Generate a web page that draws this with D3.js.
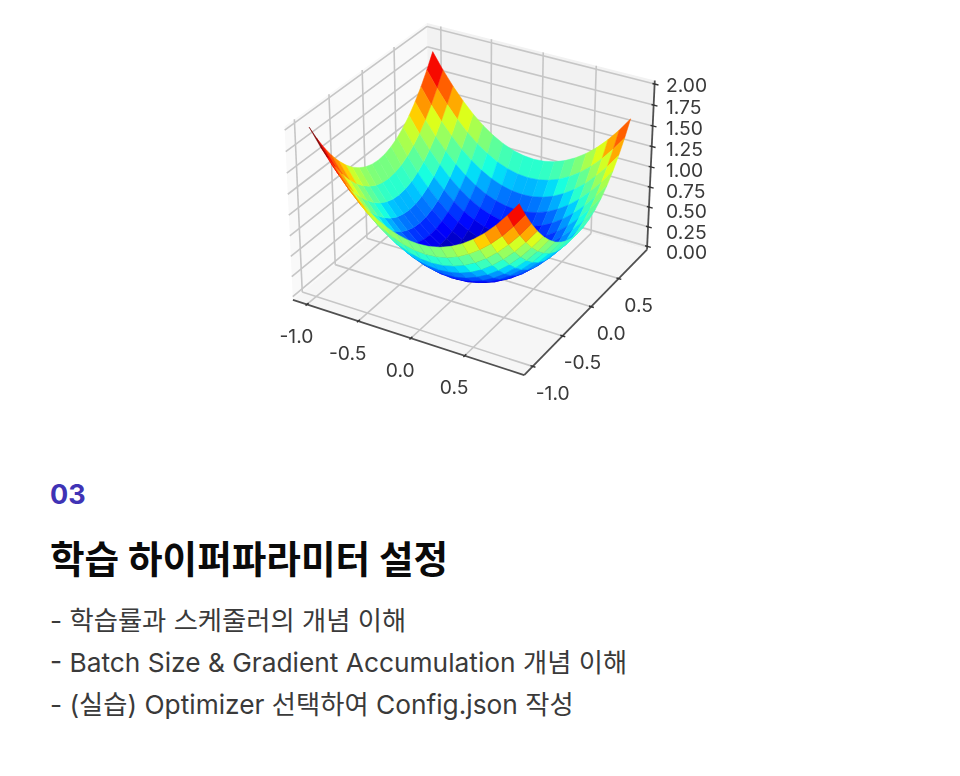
<!DOCTYPE html>
<html lang="ko">
<head>
<meta charset="utf-8">
<script src="https://cdn.jsdelivr.net/npm/d3@7"></script>
<style>
html,body{margin:0;padding:0;background:#fff;}
svg{display:block;}
text{font-family:"Inter","Noto Sans CJK KR",sans-serif;}
.plot{filter:blur(0.6px);}
</style>
</head>
<body>
<svg id="chart" width="960" height="776"></svg>
<script>
// ---------- data ----------
const xValues = [-1.0,-0.9,-0.8,-0.7,-0.6,-0.5,-0.4,-0.3,-0.2,-0.1,0.0,0.1,0.2,0.3,0.4,0.5,0.6,0.7,0.8,0.9];
const yValues = [-1.0,-0.9,-0.8,-0.7,-0.6,-0.5,-0.4,-0.3,-0.2,-0.1,0.0,0.1,0.2,0.3,0.4,0.5,0.6,0.7,0.8,0.9];
const zValues = [
 [2,1.81,1.64,1.49,1.36,1.25,1.16,1.09,1.04,1.01,1,1.01,1.04,1.09,1.16,1.25,1.36,1.49,1.64,1.81],
 [1.81,1.62,1.45,1.30,1.17,1.06,.97,.90,.85,.82,.81,.82,.85,.90,.97,1.06,1.17,1.30,1.45,1.62],
 [1.64,1.45,1.28,1.13,1.00,.89,.80,.73,.68,.65,.64,.65,.68,.73,.80,.89,1.00,1.13,1.28,1.45],
 [1.49,1.30,1.13,.98,.85,.74,.65,.58,.53,.50,.49,.50,.53,.58,.65,.74,.85,.98,1.13,1.30],
 [1.36,1.17,1.00,.85,.72,.61,.52,.45,.40,.37,.36,.37,.40,.45,.52,.61,.72,.85,1.00,1.17],
 [1.25,1.06,.89,.74,.61,.50,.41,.34,.29,.26,.25,.26,.29,.34,.41,.50,.61,.74,.89,1.06],
 [1.16,.97,.80,.65,.52,.41,.32,.25,.20,.17,.16,.17,.20,.25,.32,.41,.52,.65,.80,.97],
 [1.09,.90,.73,.58,.45,.34,.25,.18,.13,.10,.09,.10,.13,.18,.25,.34,.45,.58,.73,.90],
 [1.04,.85,.68,.53,.40,.29,.20,.13,.08,.05,.04,.05,.08,.13,.20,.29,.40,.53,.68,.85],
 [1.01,.82,.65,.50,.37,.26,.17,.10,.05,.02,.01,.02,.05,.10,.17,.26,.37,.50,.65,.82],
 [1,.81,.64,.49,.36,.25,.16,.09,.04,.01,0,.01,.04,.09,.16,.25,.36,.49,.64,.81],
 [1.01,.82,.65,.50,.37,.26,.17,.10,.05,.02,.01,.02,.05,.10,.17,.26,.37,.50,.65,.82],
 [1.04,.85,.68,.53,.40,.29,.20,.13,.08,.05,.04,.05,.08,.13,.20,.29,.40,.53,.68,.85],
 [1.09,.90,.73,.58,.45,.34,.25,.18,.13,.10,.09,.10,.13,.18,.25,.34,.45,.58,.73,.90],
 [1.16,.97,.80,.65,.52,.41,.32,.25,.20,.17,.16,.17,.20,.25,.32,.41,.52,.65,.80,.97],
 [1.25,1.06,.89,.74,.61,.50,.41,.34,.29,.26,.25,.26,.29,.34,.41,.50,.61,.74,.89,1.06],
 [1.36,1.17,1.00,.85,.72,.61,.52,.45,.40,.37,.36,.37,.40,.45,.52,.61,.72,.85,1.00,1.17],
 [1.49,1.30,1.13,.98,.85,.74,.65,.58,.53,.50,.49,.50,.53,.58,.65,.74,.85,.98,1.13,1.30],
 [1.64,1.45,1.28,1.13,1.00,.89,.80,.73,.68,.65,.64,.65,.68,.73,.80,.89,1.00,1.13,1.28,1.45],
 [1.81,1.62,1.45,1.30,1.17,1.06,.97,.90,.85,.82,.81,.82,.85,.90,.97,1.06,1.17,1.30,1.45,1.62]
];
const xTicks = [-1.0,-0.5,0.0,0.5];
const yTicks = [-1.0,-0.5,0.0,0.5];
const zTicks = [0,0.25,0.5,0.75,1,1.25,1.5,1.75,2];
const eyebrow = "03";
const heading = "학습 하이퍼파라미터 설정";
const bullets = [
  "- 학습률과 스케줄러의 개념 이해",
  "- Batch Size & Gradient Accumulation 개념 이해",
  "- (실습) Optimizer 선택하여 Config.json 작성"
];

// ---------- scales: data -> box space (view limits incl. 3D pane padding) ----------
const xDom = [-1.1385, 1.0385], yDom = [-1.1385, 1.0385], zDom = [-0.0417, 2.0417];
const HX = 0.5953, HY = 0.5953, HZ = 0.4464;
const xW = d3.scaleLinear().domain(xDom).range([-HX, HX]);
const yW = d3.scaleLinear().domain(yDom).range([-HY, HY]);
const zW = d3.scaleLinear().domain(zDom).range([-HZ, HZ]);

// perspective camera: elev 30, azim -60, distance 10
const elev = 30 * Math.PI / 180, azim = -60 * Math.PI / 180, dist = 10;
const w = [Math.cos(elev)*Math.cos(azim), Math.cos(elev)*Math.sin(azim), Math.sin(elev)];
const uLen = Math.hypot(w[0], w[1]);
const u = [-w[1]/uLen, w[0]/uLen, 0];
const v = [w[1]*u[2]-w[2]*u[1], w[2]*u[0]-w[0]*u[2], w[0]*u[1]-w[1]*u[0]];
const dot = (a,b) => a[0]*b[0]+a[1]*b[1]+a[2]*b[2];

// camera plane -> pixels
const sx = d3.scaleLinear().domain([-0.081, 0.0781]).range([293, 647]);
const sy = d3.scaleLinear().domain([-0.0833, 0.0757]).range([375, 23]);

function project(x, y, z) {
  const P = [xW(x), yW(y), zW(z)];
  const d = dist - dot(P, w);
  return { px: sx(dot(P, u)/d), py: sy(dot(P, v)/d), depth: d };
}
const [x0, x1] = xDom, [y0, y1] = yDom, [z0, z1] = zDom;

const svg = d3.select("#chart");
const plot = svg.append("g").attr("class", "plot");
const poly = pts => pts.map(p => { const q = project(...p); return q.px.toFixed(2)+","+q.py.toFixed(2); }).join(" ");
const seg = (g, a, b, color, width) => {
  const p = project(...a), q = project(...b);
  g.append("line").attr("x1", p.px).attr("y1", p.py).attr("x2", q.px).attr("y2", q.py)
    .attr("stroke", color).attr("stroke-width", width).attr("stroke-linecap", "butt");
};

// ---------- panes ----------
const panes = [
  { pts: [[x0,y0,z0],[x0,y1,z0],[x0,y1,z1],[x0,y0,z1]], fill: "#f9f9f9" },
  { pts: [[x0,y1,z0],[x1,y1,z0],[x1,y1,z1],[x0,y1,z1]], fill: "#f2f2f2" },
  { pts: [[x0,y0,z0],[x1,y0,z0],[x1,y1,z0],[x0,y1,z0]], fill: "#f6f6f6" }
];
plot.append("g").selectAll("polygon").data(panes).join("polygon")
  .attr("points", d => poly(d.pts)).attr("fill", d => d.fill);

// ---------- grid ----------
const grid = plot.append("g");
const gridColor = "#c6c6c6", gridW = 1.6;
xTicks.forEach(t => {
  seg(grid, [t,y0,z0],[t,y1,z0], gridColor, gridW);
  seg(grid, [t,y1,z0],[t,y1,z1], gridColor, gridW);
});
yTicks.forEach(t => {
  seg(grid, [x1,t,z0],[x0,t,z0], gridColor, gridW);
  seg(grid, [x0,t,z0],[x0,t,z1], gridColor, gridW);
});
zTicks.forEach(t => {
  seg(grid, [x0,y0,t],[x0,y1,t], gridColor, gridW);
  seg(grid, [x0,y1,t],[x1,y1,t], gridColor, gridW);
});

// ---------- axis lines and ticks ----------
const axes = plot.append("g");
const axisColor = "#505050", axisW = 1.8;
seg(axes, [x0,y0,z0],[x1,y0,z0], axisColor, axisW);
seg(axes, [x1,y0,z0],[x1,y1,z0], axisColor, axisW);
seg(axes, [x1,y1,z0],[x1,y1,z1], axisColor, axisW);
xTicks.forEach(t => seg(axes, [t,y0-0.02,z0],[t,y0+0.025,z0], "#333", 1.4));
yTicks.forEach(t => seg(axes, [x1-0.02,t,z0],[x1+0.025,t,z0], "#333", 1.4));
zTicks.forEach(t => seg(axes, [x1-0.02,y1,t],[x1+0.035,y1,t], "#333", 1.4));

// ---------- surface ----------
const jetStops = [0,0.11,0.125,0.34,0.35,0.375,0.64,0.65,0.66,0.89,0.91,1];
const jetColors = ["#00007f","#0000ee","#0000ff","#00d5ff","#07e6f0","#16ffe1","#e1ff16","#f0e607","#ffd500","#ff1300","#ee0000","#7f0000"];
const jet = d3.scaleLinear().domain(jetStops).range(jetColors).clamp(true);

const facets = [];
yValues.slice(0,-1).forEach((_, r) => {
  xValues.slice(0,-1).forEach((_, c) => {
    const corners = [[c,r],[c+1,r],[c+1,r+1],[c,r+1]]
      .map(([i,j]) => [xValues[i], yValues[j], zValues[j][i]]);
    const depth = d3.mean(corners, p => project(...p).depth);
    facets.push({ corners, depth, value: d3.mean(corners, p => p[2]) });
  });
});
const colorNorm = d3.scaleLinear().domain(d3.extent(facets, d => d.value)).range([0,1]);
facets.sort((a,b) => b.depth - a.depth);
plot.append("g").selectAll("polygon").data(facets).join("polygon")
  .attr("points", d => poly(d.corners))
  .attr("fill", d => jet(colorNorm(d.value)))
  .attr("stroke", d => jet(colorNorm(d.value)))
  .attr("stroke-width", 0.5)
  .attr("stroke-linejoin", "round");

// ---------- tick labels ----------
const tickFont = 19.3, tickColor = "#3a3a3a";
const labels = plot.append("g").attr("font-size", tickFont).attr("fill", tickColor);
const fmt1 = t => d3.format(".1f")(t).replace("\u2212", "-");
const fmt2 = d3.format(".2f");
const zLabelShift = d3.scaleLinear().domain([0,2]).range([12.5, 8]);
xTicks.forEach(t => {
  const p = project(t, y0, z0);
  labels.append("text").attr("x", p.px - 10.5).attr("y", p.py + 38.5).attr("text-anchor","middle").text(fmt1(t));
});
yTicks.forEach(t => {
  const p = project(x1, t, z0);
  labels.append("text").attr("x", p.px + 20).attr("y", p.py + 33.5).attr("text-anchor","middle").text(fmt1(t));
});
zTicks.forEach(t => {
  const p = project(x1, y1, t);
  labels.append("text").attr("x", 666).attr("y", p.py + zLabelShift(t)).attr("text-anchor","start").text(fmt2(t));
});

// ---------- text block ----------
svg.append("text").attr("x", 50).attr("y", 503.5).attr("font-size", 27).attr("font-weight", 700)
  .attr("fill", "#3f33b5").text(eyebrow);
svg.append("text").attr("x", 50).attr("y", 573).attr("font-size", 37.6).attr("font-weight", 700)
  .attr("fill", "#0a0a0a").text(heading);
const bulletY = d3.scaleLinear().domain([0,2]).range([630, 714]);
svg.append("g").selectAll("text").data(bullets).join("text")
  .attr("x", 50).attr("y", (d,i) => bulletY(i)).attr("font-size", 26.3).attr("fill", "#3a3a3a").text(d => d);
</script>
</body>
</html>
